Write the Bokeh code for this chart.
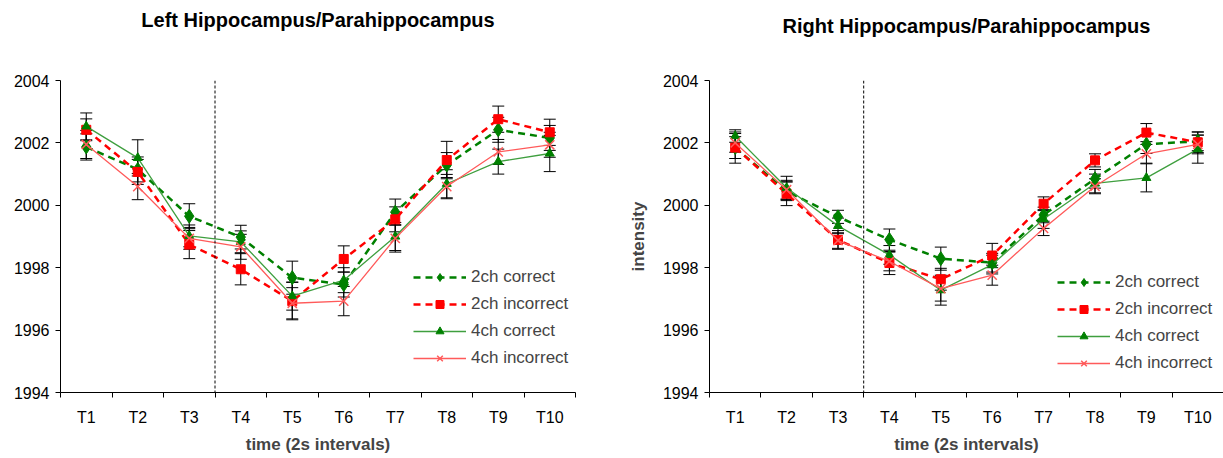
from bokeh.plotting import figure
from bokeh.layouts import row
from bokeh.models import (FixedTicker, Span, Whisker, TeeHead, ColumnDataSource,
                          Legend, LegendItem, Title)
from bokeh.embed import file_html
from bokeh.resources import INLINE

# Time points (2 s intervals)
times = ["T1", "T2", "T3", "T4", "T5", "T6", "T7", "T8", "T9", "T10"]
xpos = list(range(1, 11))

# Left Hippocampus/Parahippocampus: mean intensity per condition
left_2ch_correct = [2001.87, 2001.15, 1999.65, 1998.98, 1997.68, 1997.46, 1999.78, 2001.29, 2002.42, 2002.16]
left_2ch_incorrect = [2002.42, 2001.07, 1998.74, 1997.95, 1996.93, 1998.28, 1999.55, 2001.45, 2002.76, 2002.34]
left_4ch_correct = [2002.53, 2001.52, 1999.02, 1998.83, 1997.09, 1997.60, 1999.00, 2000.69, 2001.40, 2001.66]
left_4ch_incorrect = [2001.95, 2000.60, 1998.94, 1998.67, 1996.86, 1996.93, 1998.94, 2000.60, 2001.71, 2001.94]

# Left: standard errors
left_2ch_correct_err = [0.42, 0.40, 0.40, 0.38, 0.53, 0.40, 0.42, 0.40, 0.40, 0.40]
left_2ch_incorrect_err = [0.35, 0.40, 0.45, 0.50, 0.60, 0.42, 0.40, 0.60, 0.42, 0.42]
left_4ch_correct_err = [0.43, 0.58, 0.35, 0.35, 0.45, 0.40, 0.45, 0.45, 0.40, 0.58]
left_4ch_incorrect_err = [0.45, 0.42, 0.35, 0.40, 0.50, 0.47, 0.44, 0.39, 0.40, 0.40]

# Right Hippocampus/Parahippocampus: mean intensity per condition
right_2ch_correct = [2001.85, 2000.45, 1999.63, 1998.90, 1998.29, 1998.16, 1999.69, 2000.85, 2001.96, 2002.05]
right_2ch_incorrect = [2001.85, 2000.37, 1998.89, 1998.15, 1997.63, 1998.39, 2000.05, 2001.44, 2002.33, 2002.02]
right_4ch_correct = [2002.22, 2000.56, 1999.34, 1998.41, 1997.28, 1998.10, 1999.56, 2000.70, 2000.88, 2001.80]
right_4ch_incorrect = [2002.00, 2000.50, 1998.87, 1998.20, 1997.33, 1997.76, 1999.26, 2000.61, 2001.65, 2001.95]

# Right: standard errors
right_2ch_correct_err = [0.35, 0.30, 0.21, 0.34, 0.37, 0.30, 0.25, 0.30, 0.30, 0.30]
right_2ch_incorrect_err = [0.50, 0.38, 0.30, 0.37, 0.35, 0.39, 0.22, 0.21, 0.29, 0.33]
right_4ch_correct_err = [0.20, 0.37, 0.25, 0.30, 0.48, 0.30, 0.30, 0.30, 0.45, 0.45]
right_4ch_incorrect_err = [0.30, 0.30, 0.25, 0.30, 0.40, 0.32, 0.23, 0.24, 0.30, 0.30]

y_ticks = [1994, 1996, 1998, 2000, 2002, 2004]

FONT = "Liberation Sans"
GREEN = "#008000"
RED = "#ff0000"
LIGHT_GREEN = "#3f9f3f"
LIGHT_RED = "#ff5a5a"


def make_panel(title, series, width, border_left, border_right, border_top,
               border_bottom, ylabel, legend_xy, gap):
    p = figure(width=width, height=458, x_range=(0.5, 10.5), y_range=(1994, 2004),
               output_backend="svg", toolbar_location=None,
               min_border_left=border_left, min_border_right=border_right,
               min_border_top=border_top, min_border_bottom=border_bottom)
    p.background_fill_color = "white"
    p.border_fill_color = "white"
    p.outline_line_color = None
    p.grid.grid_line_color = None

    # blank band between plot area and heading, then the heading itself
    p.add_layout(Title(text=" ", text_font_size="30px", standoff=gap), "above")
    p.add_layout(Title(text=title, align="center", text_font=FONT,
                       text_font_size="20px", text_font_style="bold",
                       text_color="black", standoff=0), "above")

    # x axis: labels at the category centres, ticks at the boundaries
    p.xaxis.ticker = FixedTicker(ticks=xpos, minor_ticks=[x - 0.5 for x in xpos] + [10.5])
    p.xaxis.major_label_overrides = {x: t for x, t in zip(xpos, times)}
    p.xaxis.major_tick_line_color = None
    p.xaxis.minor_tick_line_color = "black"
    p.xaxis.minor_tick_in = 0
    p.xaxis.minor_tick_out = 5
    p.xaxis.axis_label = "time (2s intervals)"
    p.xaxis.axis_label_text_font = FONT
    p.xaxis.axis_label_text_font_size = "17px"
    p.xaxis.axis_label_text_font_style = "bold"
    p.xaxis.axis_label_standoff = 6
    p.xaxis.major_label_standoff = 10

    p.yaxis.ticker = FixedTicker(ticks=y_ticks, minor_ticks=[])
    p.yaxis.major_tick_in = 0
    p.yaxis.major_tick_out = 5
    p.yaxis.major_label_standoff = 6
    if ylabel:
        p.yaxis.axis_label = ylabel
        p.yaxis.axis_label_text_font = FONT
        p.yaxis.axis_label_text_font_size = "17px"
        p.yaxis.axis_label_text_font_style = "bold"
        p.yaxis.axis_label_standoff = 12

    for ax in (p.xaxis, p.yaxis):
        ax.axis_line_color = "black"
        ax.axis_line_width = 1
        ax.major_label_text_font = FONT
        ax.major_label_text_font_size = "16px"
        ax.major_label_text_color = "black"

    p.add_layout(Span(location=3.5, dimension="height", line_color="black",
                      line_width=1, line_dash="3 2"))

    items = []
    for label, vals, errs, style in series:
        src = ColumnDataSource(dict(x=xpos, y=vals,
                                    lo=[v - e for v, e in zip(vals, errs)],
                                    hi=[v + e for v, e in zip(vals, errs)]))
        p.add_layout(Whisker(source=src, base="x", lower="lo", upper="hi",
                             line_color="black", line_width=1,
                             upper_head=TeeHead(size=12, line_color="black", line_width=1),
                             lower_head=TeeHead(size=12, line_color="black", line_width=1)))
        ln = p.line("x", "y", source=src, line_color=style["color"],
                    line_width=style["lw"], line_dash=style["dash"])
        mk = p.scatter("x", "y", source=src, marker=style["marker"],
                       size=style["size"], fill_color=style["mcolor"],
                       line_color=style["mcolor"], line_width=style.get("mlw", 1))
        items.append(LegendItem(label=label, renderers=[ln, mk]))

    legend = Legend(items=items, location=legend_xy, glyph_width=53,
                    glyph_height=20, spacing=7, padding=0, margin=0,
                    label_text_font=FONT, label_text_font_size="17px",
                    label_standoff=5, border_line_color=None,
                    background_fill_alpha=0)
    p.add_layout(legend)
    return p


styles = {
    "2ch correct": dict(color=GREEN, lw=2.5, dash="7 5", marker="diamond", size=14, mcolor=GREEN),
    "2ch incorrect": dict(color=RED, lw=2.5, dash="7 5", marker="square", size=9, mcolor=RED),
    "4ch correct": dict(color=LIGHT_GREEN, lw=1.3, dash="solid", marker="triangle", size=9, mcolor=GREEN),
    "4ch incorrect": dict(color=LIGHT_RED, lw=1.3, dash="solid", marker="x", size=13, mcolor=LIGHT_RED, mlw=1.5),
}

left_series = [
    ("2ch correct", left_2ch_correct, left_2ch_correct_err, styles["2ch correct"]),
    ("2ch incorrect", left_2ch_incorrect, left_2ch_incorrect_err, styles["2ch incorrect"]),
    ("4ch correct", left_4ch_correct, left_4ch_correct_err, styles["4ch correct"]),
    ("4ch incorrect", left_4ch_incorrect, left_4ch_incorrect_err, styles["4ch incorrect"]),
]
right_series = [
    ("2ch correct", right_2ch_correct, right_2ch_correct_err, styles["2ch correct"]),
    ("2ch incorrect", right_2ch_incorrect, right_2ch_incorrect_err, styles["2ch incorrect"]),
    ("4ch correct", right_4ch_correct, right_4ch_correct_err, styles["4ch correct"]),
    ("4ch incorrect", right_4ch_incorrect, right_4ch_incorrect_err, styles["4ch incorrect"]),
]

left = make_panel("Left Hippocampus/Parahippocampus", left_series, width=600,
                  border_left=60, border_right=25, border_top=76, border_bottom=66,
                  ylabel=None, legend_xy=(353, 24), gap=15)
right = make_panel("Right Hippocampus/Parahippocampus", right_series, width=623,
                   border_left=109, border_right=0, border_top=80, border_bottom=63,
                   ylabel="intensity", legend_xy=(348, 19), gap=9)

layout = row(left, right)
open("out.html", "w").write(file_html(layout, INLINE))
